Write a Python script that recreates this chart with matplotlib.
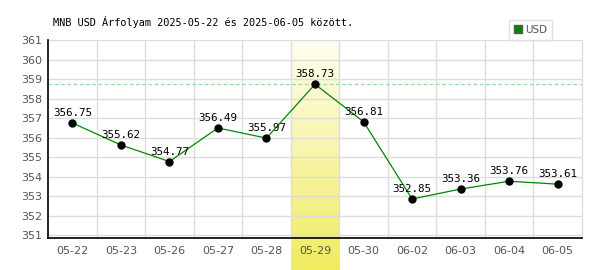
import numpy as np
import matplotlib.pyplot as plt
from matplotlib.colors import LinearSegmentedColormap
from matplotlib.patches import Patch

# data
dates = ["05-22", "05-23", "05-26", "05-27", "05-28", "05-29",
         "05-30", "06-02", "06-03", "06-04", "06-05"]
rates = [356.75, 355.62, 354.77, 356.49, 355.97, 358.73,
         356.81, 352.85, 353.36, 353.76, 353.61]
highlight_idx = 5
title = "MNB USD Árfolyam 2025-05-22 és 2025-06-05 között."

fig = plt.figure(figsize=(6, 2.7), dpi=100)
L, R = 48 / 600, 582 / 600
B, T = 1 - 238 / 270, 1 - 40 / 270
ax = fig.add_axes([L, B, R - L, T - B])

n = len(dates)
x = np.arange(n)
ax.set_xlim(-0.5, n - 0.5)
ax.set_ylim(350.85, 361)

# yellow gradient band for the highest day, reaching below the axis
colw = (R - L) / n
hl = fig.add_axes([L + colw * highlight_idx, 0, colw, T], zorder=0)
cmap = LinearSegmentedColormap.from_list("hl", ["#fefef0", "#f0ec60"])
hl.imshow(np.linspace(0, 1, 100).reshape(-1, 1), aspect="auto", cmap=cmap,
          extent=[0, 1, 0, 1], origin="upper")
hl.axis("off")
ax.set_zorder(1)
ax.patch.set_alpha(0)

# grid
for yv in range(351, 362):
    ax.axhline(yv, color="#dddddd", lw=1, zorder=1)
for xv in np.arange(0.5, n + 0.5, 1):
    ax.axvline(xv, color="#dddddd", lw=1, zorder=1, clip_on=False)

ax.axhline(max(rates), color="#99dd99", lw=0.9, ls=(0, (3, 2)), zorder=2)

ax.plot(x, rates, color="#008800", lw=0.9, zorder=3)
ax.plot(x, rates, "o", color="black", ms=5, zorder=4)
for xi, v in zip(x, rates):
    ax.annotate(f"{v:.2f}", (xi, v), xytext=(0, 3.5), textcoords="offset points",
                ha="center", va="bottom", fontsize=7.8,
                family="DejaVu Sans Mono", color="black", zorder=5)

ax.set_xticks(x)
ax.set_xticklabels(dates)
ax.set_yticks(range(351, 362))
ax.tick_params(length=0, labelsize=8, colors="#555555", pad=6)
ax.tick_params(axis="y", pad=4)
for s in ["top", "right"]:
    ax.spines[s].set_visible(False)
for s in ["left", "bottom"]:
    ax.spines[s].set_color("black")
    ax.spines[s].set_linewidth(1.2)

leg = ax.legend(handles=[Patch(facecolor="#008800", edgecolor="#555555", label="USD")],
                loc="lower right", bbox_to_anchor=(552 / 600, T), bbox_transform=fig.transFigure,
                fontsize=7.5, frameon=True, fancybox=False, handlelength=0.7,
                handleheight=0.7, handletextpad=0.3, borderpad=0.5, borderaxespad=0)
leg.get_frame().set_edgecolor("#dddddd")
leg.get_frame().set_linewidth(1)
for t in leg.get_texts():
    t.set_color("#555555")

fig.text(53 / 600, 1 - 22 / 270, title, fontsize=7.4, family="DejaVu Sans Mono",
         va="center", ha="left")

fig.savefig("out.png", dpi=100)
